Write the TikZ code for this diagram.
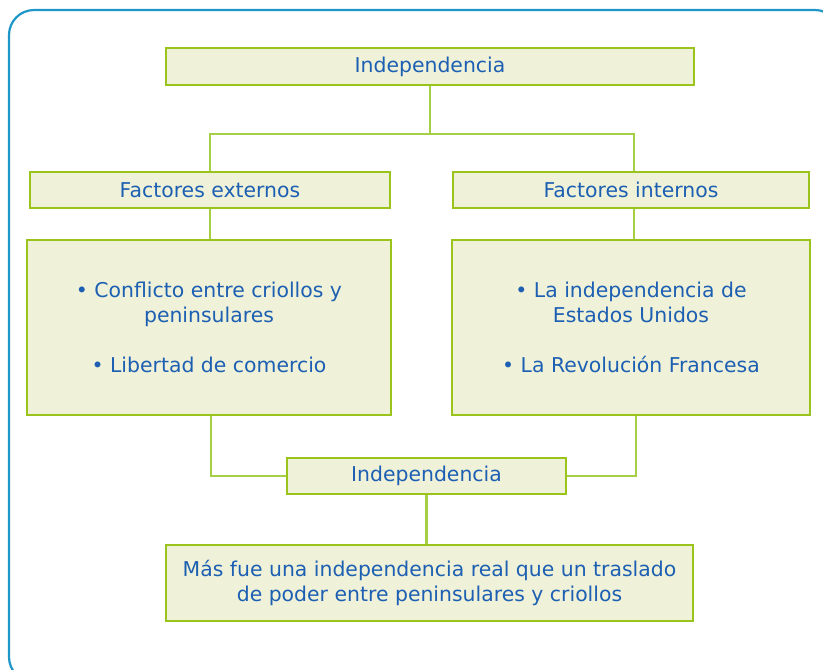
\documentclass[tikz,border=0pt]{standalone}
\usepackage{fontspec}
\setmainfont{DejaVu Sans}
\usetikzlibrary{positioning,calc}
\definecolor{marco}{HTML}{1E96C8}
\definecolor{verde}{HTML}{9AC31C}
\definecolor{linea}{HTML}{A5D046}
\definecolor{fondo}{HTML}{EFF2D8}
\definecolor{texto}{HTML}{1D5FB2}

\begin{document}
\begin{tikzpicture}[x=1pt,y=-1pt,
    caja/.style={rectangle,draw=verde,fill=fondo,line width=2.2pt,
      text=texto,font=\fontsize{20.4}{25}\selectfont,inner sep=0pt},
    union/.style={draw=linea,line width=2.2pt}]
  \useasboundingbox (0,0) rectangle (823,670);
  % marco exterior
  \draw[marco,line width=2.2pt,rounded corners=25pt] (9,10) rectangle (840,682);
  % cajas
  \node[caja,minimum width=528,minimum height=37]
  (indep) at (430,66.5) {Independencia};
  \node[caja,minimum width=360,minimum height=36]
  (externos) at (210,190) {Factores externos};
  \node[caja,minimum width=356,minimum height=36]
  (internos) at (631,190) {Factores internos};
  \node[caja,minimum width=364,minimum height=175,align=center]
  (listaext) at (209,327.5)
  {\textbullet\ Conflicto entre criollos y\\ peninsulares\\[25pt]%
   \textbullet\ Libertad de comercio};
  \node[caja,minimum width=358,minimum height=175,align=center]
  (listaint) at (631,327.5)
  {\textbullet\ La independencia de\\ Estados Unidos\\[25pt]%
   \textbullet\ La Revolución Francesa};
  \node[caja,minimum width=279,minimum height=36]
  (indepdos) at (426.5,476) {Independencia};
  \node[caja,minimum width=527,minimum height=76,align=center]
  (conclusion) at (429.5,583)
  {Más fue una independencia real que un traslado\\
   de poder entre peninsulares y criollos};
  % conectores
  \coordinate (rama) at ($(indep.south)+(0,48)$);
  \draw[union] (indep.south) -- (rama);
  \draw[union] (rama) -| (externos.north);
  \draw[union] (rama) -| ([xshift=3]internos.north);
  \draw[union] (externos.south) -- (listaext.north -| externos.south);
  \draw[union] ([xshift=3]internos.south) -- ([xshift=3]listaint.north -| internos.south);
  \draw[union] ([xshift=2]listaext.south) |- (indepdos.west);
  \draw[union] ([xshift=5]listaint.south) |- (indepdos.east);
  \draw[union] (indepdos.south) -- (indepdos.south |- conclusion.north);
\end{tikzpicture}
\end{document}
